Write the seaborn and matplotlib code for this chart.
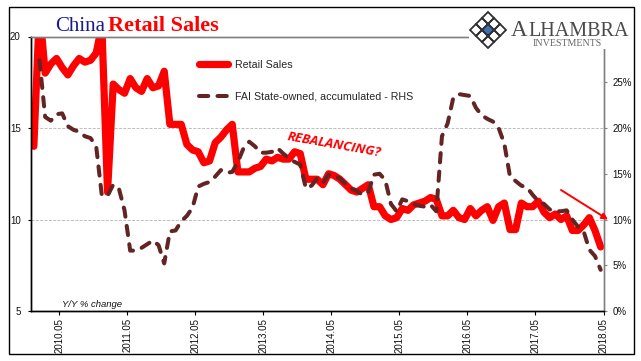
#!/usr/bin/env python3
# -*- coding: utf-8 -*-
"""China retail sales vs FAI state-owned, monthly, two axes."""

import numpy as np
import pandas as pd
import matplotlib
matplotlib.use('Agg')
import matplotlib.pyplot as plt
from matplotlib.patches import Polygon, Rectangle
import seaborn as sns

# Retail Sales, left axis, one value per month
RETAIL = [
    14.0, 21.5, 18.0, 18.5, 18.8, 18.3, 17.9, 18.4, 18.8, 18.6, 18.7, 19.1, 20.6,
    11.5, 17.4, 17.1, 16.9, 17.7, 17.2, 17.0, 17.7, 17.2, 17.3, 18.1,
    15.2, 15.2, 15.2, 14.1, 13.8, 13.7, 13.1, 13.2, 14.2, 14.5, 14.9, 15.2,
    12.6, 12.6, 12.6, 12.8, 12.9, 13.3, 13.2, 13.4, 13.3, 13.3, 13.7, 13.6,
    12.2, 12.2, 12.2, 11.9, 12.5, 12.4, 12.2, 11.9, 11.6, 11.5, 11.7, 11.9,
    10.7, 10.7, 10.2, 10.0, 10.1, 10.6, 10.5, 10.8, 10.9, 11.0, 11.2, 11.1,
    10.2, 10.2, 10.5, 10.1, 10.0, 10.6, 10.2, 10.5, 10.7, 9.95, 10.7, 10.9,
    9.45, 9.45, 10.9, 10.7, 10.7, 11.0, 10.4, 10.1, 10.3, 10.0, 10.2,
    9.4, 9.4, 9.7, 10.1, 9.4, 8.5,
]

# FAI State-owned, accumulated, right axis (%), no first month
FAI = [
    np.nan, 27.4, 21.2, 20.8, 21.5, 21.6, 20.2, 19.8, 19.6, 19.1, 18.9, 18.0, 12.6,
    12.6, 13.8, 13.4, 11.0, 6.6, 6.6, 6.9, 7.3, 7.7, 7.2, 5.2,
    8.7, 8.8, 9.8, 10.4, 11.3, 13.6, 13.9, 14.1, 14.7, 15.4, 15.1, 15.2,
    16.3, 17.8, 18.5, 18.0, 17.3, 17.3, 17.4, 17.8, 17.2, 16.7, 16.3, 16.0,
    13.4, 13.7, 14.5, 14.0, 14.9, 14.8, 14.5, 13.9, 13.4, 13.1, 12.7, 13.0,
    14.9, 15.0, 14.3, 11.7, 10.9, 12.2, 12.0, 11.7, 11.5, 11.4, 11.6, 10.9,
    19.1, 20.5, 23.3, 23.7, 23.6, 23.5, 22.2, 21.4, 21.0, 20.7, 20.0, 18.3,
    14.7, 14.2, 13.7, 13.5, 12.7, 12.0, 11.7, 11.1, 10.9, 10.9, 11.0,
    10.0, 9.2, 8.7, 6.7, 6.0, 4.5,
]

TICK_LABELS = ['2010.05', '2011.05', '2012.05', '2013.05', '2014.05',
               '2015.05', '2016.05', '2017.05', '2018.05']
TICK_SLOTS = [5, 17, 29, 41, 53, 65, 77, 89, 101]
LEFT_TICKS = [5, 10, 15, 20]
RIGHT_TICKS = [0, 5, 10, 15, 20, 25]

W, H = 641, 361
RED = '#ff0000'
BROWN = '#632523'
GREY = '#808080'

sns.set_style('white')
plt.rcParams['font.family'] = ['Liberation Sans', 'DejaVu Sans']

df = pd.DataFrame({'slot': np.arange(len(RETAIL)) + 0.5, 'retail': RETAIL, 'fai': FAI})

fig = plt.figure(figsize=(W / 100, H / 100), dpi=100)
ax = fig.add_axes([31 / W, (H - 311) / H, 572.5 / W, 274.5 / H])
ax2 = ax.twinx()

retail_line = sns.lineplot(data=df, x='slot', y='retail', ax=ax, color=RED, lw=5.2,
                           estimator=None, sort=False, solid_capstyle='round',
                           solid_joinstyle='round', legend=False).lines[0]
fai_df = df.dropna(subset=['fai'])
fai_line = sns.lineplot(data=fai_df, x='slot', y='fai', ax=ax2, color=BROWN, lw=2.9,
                        estimator=None, sort=False, linestyle=(0, (2.3, 2.3)),
                        dash_capstyle='round', legend=False).lines[0]

ax.set_xlim(0, 101)
ax.set_ylim(5, 20)
ax2.set_ylim(0, 30)

ax.set_xticks(TICK_SLOTS)
ax.set_xticklabels(TICK_LABELS, rotation=90, fontsize=7.0, color='#111111')
ax.set_yticks(LEFT_TICKS)
ax.set_yticklabels([str(v) for v in LEFT_TICKS], fontsize=7, color='#111111')
ax2.set_yticks(RIGHT_TICKS)
ax2.set_yticklabels([f'{v}%' for v in RIGHT_TICKS], fontsize=7, color='#111111')

ax.tick_params(axis='x', length=3, width=0.8, color='black', pad=2, bottom=True)
ax.tick_params(axis='y', length=2.5, width=0.8, color='black', pad=5, left=True)
ax2.tick_params(axis='y', length=2.5, width=0.8, color=GREY, pad=4, right=True)
ax.set_xlabel('')
ax.set_ylabel('')
ax2.set_ylabel('')

for v in [10, 15]:
    ax.axhline(v, color='#bdbdbd', lw=0.7, ls=(0, (3, 1.5)), zorder=0)

for side, colour in [('left', 'black'), ('bottom', 'black'), ('top', GREY), ('right', GREY)]:
    for a in (ax, ax2):
        a.spines[side].set_visible(True)
        a.spines[side].set_color(colour)
        a.spines[side].set_linewidth(1.0)

leg = ax2.legend([retail_line, fai_line],
                 ['Retail Sales', 'FAI State-owned, accumulated - RHS'],
                 loc='upper left', bbox_to_anchor=(168.3 / 572.5, 1 - 23 / 274.5),
                 frameon=False, fontsize=7.7, handlelength=2.7, handletextpad=0.63,
                 labelspacing=2.05, borderpad=0, borderaxespad=0)

# overlay in pixel coordinates for frame, title, logo and notes
over = fig.add_axes([0, 0, 1, 1], zorder=5)
over.set_xlim(0, W)
over.set_ylim(H, 0)
over.axis('off')
over.patch.set_alpha(0)

over.add_patch(Rectangle((469, 8), 163.5, 41, fc='white', ec='none'))
over.add_patch(Rectangle((8.5, 6.5), 625, 347.5, fc='none', ec='black', lw=1.0))

title_font = ['Liberation Serif', 'DejaVu Serif']
over.text(55, 31, 'China', color='#1a1a8c', fontsize=15, family=title_font, va='baseline')
over.text(108, 31, 'Retail Sales', color=RED, fontsize=16, family=title_font,
          fontweight='bold', va='baseline')

over.text(62, 307, 'Y/Y % change', fontsize=6.8, style='italic', color='#111111', va='baseline')
over.text(334, 145, 'REBALANCING?', color=RED, fontsize=9.6, fontweight='bold', style='italic',
          family=['Open Sans', 'DejaVu Sans'], rotation=-10, ha='center', va='center',
          rotation_mode='anchor')
over.annotate('', xy=(608, 219.5), xytext=(561, 190),
              arrowprops=dict(arrowstyle='-|>,head_length=0.35,head_width=0.18', color=RED,
                              lw=1.4, shrinkA=0, shrinkB=0))

# logo: lattice of small diamonds
cx, cy, r = 488, 30, 6
for i in range(-1, 2):
    for j in range(-1, 2):
        dx, dy = (i - j) * r, (i + j) * r
        face = '#3f6fb5' if i == 0 and j == 0 else 'none'
        over.add_patch(Polygon([(cx + dx, cy + dy - r), (cx + dx + r, cy + dy),
                                (cx + dx, cy + dy + r), (cx + dx - r, cy + dy)],
                               closed=True, fc=face, ec='#2f2f2f', lw=1.3))
over.text(511, 35.5, 'A', color='#4a4a4a', fontsize=16.5, family=title_font, va='baseline')
over.text(528.5, 35.5, 'LHAMBRA', color='#4a4a4a', fontsize=14.5, family=title_font, va='baseline')
over.text(532.5, 46.5, 'INVESTMENTS', color='#666666', fontsize=7.2, family=title_font, va='baseline')

fig.savefig('out.png', dpi=100)
plt.close(fig)
